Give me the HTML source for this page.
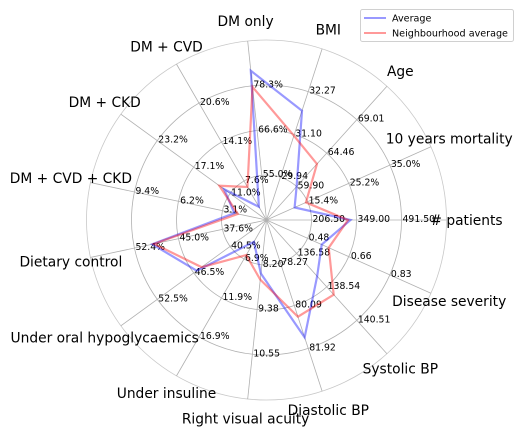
<!DOCTYPE html>
<html><head><meta charset="utf-8">
<style>
html,body{margin:0;padding:0;background:#fff;}
svg{display:block;font-family:"DejaVu Sans","Liberation Sans",sans-serif;}
</style></head>
<body>
<svg id="chart" width="523" height="436" viewBox="0 0 523 436" xmlns="http://www.w3.org/2000/svg">
<g id="grid"></g>
<g id="ticks"></g>
<g id="series"></g>
<g id="labels"></g>
<g>
  <rect x="360.5" y="9.5" width="153" height="32" rx="2" fill="#fff" stroke="#d0d0d0"/>
  <line x1="364" y1="18" x2="386" y2="18" stroke="#0000ff" stroke-opacity="0.4" stroke-width="2"/>
  <text x="392" y="21.5" font-size="9.6" fill="#000">Average</text>
  <line x1="364" y1="33" x2="386" y2="33" stroke="#ff0000" stroke-opacity="0.4" stroke-width="2"/>
  <text x="392" y="36.5" font-size="9.6" fill="#000">Neighbourhood average</text>
</g>
</svg>
<script>
const categories = ["# patients","10 years mortality","Age","BMI","DM only","DM + CVD","DM + CKD","DM + CVD + CKD","Dietary control","Under oral hypoglycaemics","Under insuline","Right visual acuity","Diastolic BP","Systolic BP","Disease severity"];
const ringValues = [
 [206.50,349.00,491.50],[15.4,25.2,35.0],[59.90,64.46,69.01],[29.94,31.10,32.27],[55.0,66.6,78.3],
 [7.6,14.1,20.6],[11.0,17.1,23.2],[3.1,6.2,9.4],[37.6,45.0,52.4],[40.5,46.5,52.5],
 [6.9,11.9,16.9],[8.20,9.38,10.55],[78.27,80.09,81.92],[136.58,138.54,140.51],[0.48,0.66,0.83]];
const tickLabels = [
 ["206.50","349.00","491.50"],["15.4%","25.2%","35.0%"],["59.90","64.46","69.01"],["29.94","31.10","32.27"],["55.0%","66.6%","78.3%"],
 ["7.6%","14.1%","20.6%"],["11.0%","17.1%","23.2%"],["3.1%","6.2%","9.4%"],["37.6%","45.0%","52.4%"],["40.5%","46.5%","52.5%"],
 ["6.9%","11.9%","16.9%"],["8.20","9.38","10.55"],["78.27","80.09","81.92"],["136.58","138.54","140.51"],["0.48","0.66","0.83"]];
const averageValues = [330,12.3,59.9,31.75,82.2,3.3,12.0,2.25,49.4,46.0,4.7,8.43,81.45,137.92,0.54];
const neighbourhoodValues = [322,15.0,62.98,31.07,78.0,6.6,12.8,2.0,49.1,45.2,6.4,8.59,80.57,139.0,0.57];

const NS="http://www.w3.org/2000/svg";
const cx=266.5, cy=220, ringStep=45, R=180;
function ang(i){return i*2*Math.PI/categories.length;}
function rScale(i,v){const rv=ringValues[i];const step=(rv[2]-rv[0])/2;const v0=rv[0]-step;return (v-v0)/step*ringStep;}
function pt(i,r){return [cx+r*Math.cos(ang(i)), cy-r*Math.sin(ang(i))];}
function mk(tag,attrs,parent){const e=document.createElementNS(NS,tag);for(const k in attrs)e.setAttribute(k,attrs[k]);parent.appendChild(e);return e;}

const grid=document.getElementById('grid');
[1,2,3].forEach(k=>{
  const c=mk('circle',{cx:cx,cy:cy,r:k*ringStep,fill:'none',stroke:'#b0b0b0','stroke-width':0.8},grid);
  
  
});
const outer=mk('circle',{cx:cx,cy:cy,r:R,fill:'none',stroke:'#c8c8c8','stroke-width':0.8},grid);


categories.forEach((c,i)=>{
  const p=pt(i,R);
  const l=mk('line',{x1:cx,y1:cy,x2:p[0],y2:p[1],stroke:'#b0b0b0','stroke-width':0.8},grid);
  
  
});

const ticks=document.getElementById('ticks');
categories.forEach((c,i)=>{
  ringValues[i].forEach((v,k)=>{
    const p=pt(i,rScale(i,v));
    const t=mk('text',{x:p[0]+1,y:p[1]+2,'font-size':9.3,fill:'#000'},ticks);
    t.textContent=tickLabels[i][k];
    
    
  });
});

const series=document.getElementById('series');
function drawSeries(vals,color,name){
  const pts=vals.map((v,i)=>pt(i,rScale(i,v)).join(',')).join(' ');
  const p=mk('polygon',{points:pts,fill:'none',stroke:color,'stroke-opacity':0.4,'stroke-width':2.2,'stroke-linejoin':'miter'},series);
  
  
}
drawSeries(averageValues,'#0000ff','average-line');
drawSeries(neighbourhoodValues,'#ff0000','neighbourhood-average-line');

const labels=document.getElementById('labels');
categories.forEach((c,i)=>{
  const p=pt(i,200);
  const t=mk('text',{x:p[0],y:p[1]+4.8,'font-size':13.8,'text-anchor':'middle',fill:'#000'},labels);
  t.textContent=c;
  
  
});
</script>
</body></html>
